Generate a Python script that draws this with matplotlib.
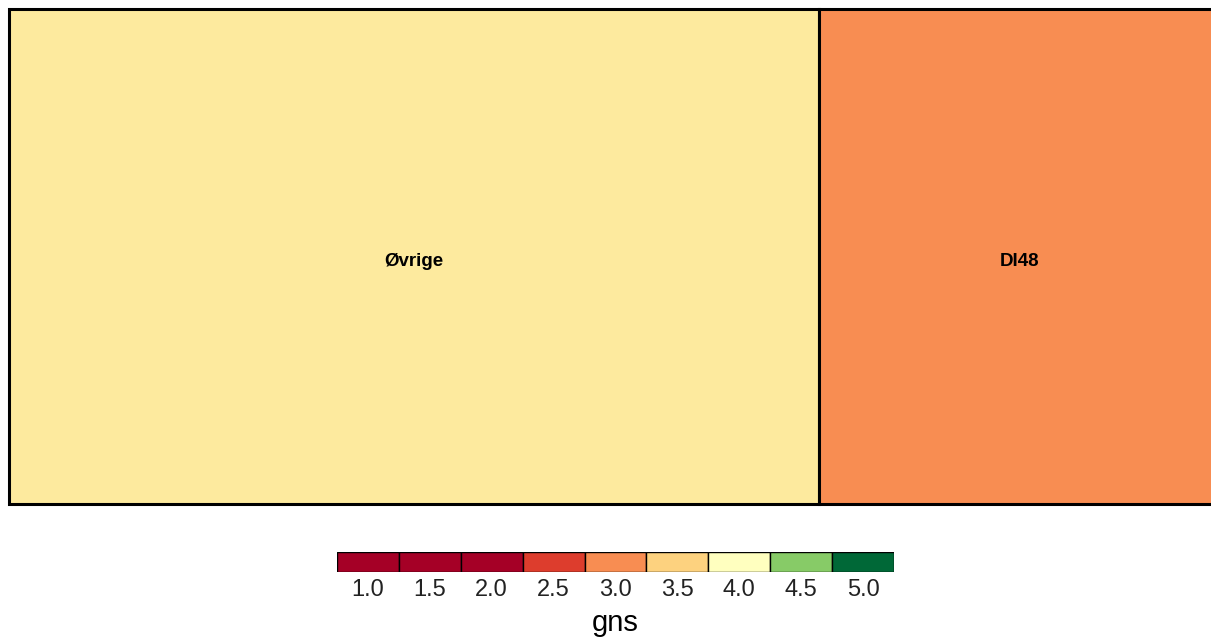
import matplotlib
matplotlib.use("Agg")
import matplotlib.pyplot as plt
from matplotlib.patches import Rectangle

plt.rcParams['font.family'] = ['Liberation Sans', 'DejaVu Sans']

# Data
labels = ["Øvrige", "DI48"]
sizes = [810, 402]
fill_colors = ["#FDEA9E", "#F88D52"]

legend_values = [1.0, 1.5, 2.0, 2.5, 3.0, 3.5, 4.0, 4.5, 5.0]
legend_colors = ["#A50026", "#A50026", "#A50026", "#DD3D2D", "#F88D52",
                 "#FDD27F", "#FFFFBF", "#87CB67", "#006837"]
legend_title = "gns"

W, H = 1211, 641
fig = plt.figure(figsize=(W / 100, H / 100), dpi=100)

# Treemap axes: px 9..1221 horizontally, 9..504 vertically
total = sum(sizes)
ax = fig.add_axes([9 / W, 1 - 504 / H, (1221 - 9) / W, (504 - 9) / H])
ax.set_xlim(0, total)
ax.set_ylim(0, 1)
ax.axis("off")
x0 = 0
for lab, s, c in zip(labels, sizes, fill_colors):
    ax.add_patch(Rectangle((x0, 0), s, 1, facecolor=c, edgecolor="black",
                           linewidth=2.2, clip_on=False))
    ax.text(x0 + s / 2, 0.49, lab, ha="center", va="center",
            fontsize=13.5, fontweight="bold", color="black")
    x0 += s

# Legend axes: px 337..894, 552..572
lax = fig.add_axes([337 / W, 1 - 572 / H, (894 - 337) / W, (572 - 552) / H])
n = len(legend_values)
lax.bar(range(n), [1] * n, width=1.0, color=legend_colors, edgecolor="black",
        linewidth=1.0, align="center")
lax.set_xlim(-0.5, n - 0.5)
lax.set_ylim(0, 1)
for s in lax.spines.values():
    s.set_visible(False)
lax.set_yticks([])
lax.set_xticks(range(n))
lax.set_xticklabels([f"{v:.1f}" for v in legend_values], fontsize=17,
                    color="#222222")
lax.tick_params(axis="x", length=0, pad=5)
lax.set_xlabel(legend_title, fontsize=21, labelpad=6)

fig.savefig("out.png", dpi=100, facecolor="white")
